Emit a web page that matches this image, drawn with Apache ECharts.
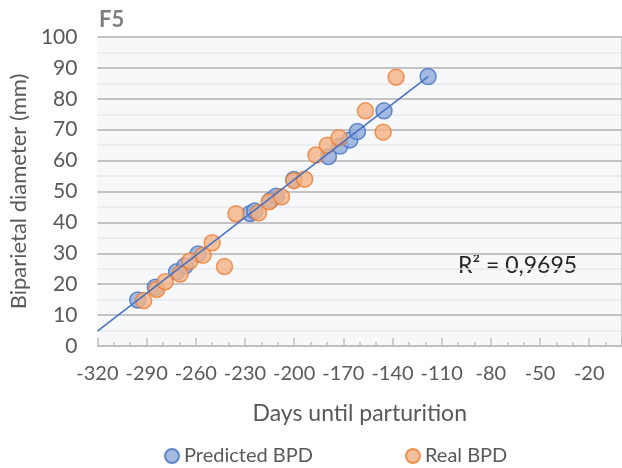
<!DOCTYPE html>
<html>
<head>
<meta charset="utf-8">
<script src="https://cdn.jsdelivr.net/npm/echarts@6/dist/echarts.min.js"></script>
<style>
  html, body { margin: 0; padding: 0; background: #ffffff; }
  #chart { width: 622px; height: 468px; }
</style>
</head>
<body>
<div id="chart"></div>
<script>
// Days until parturition vs. biparietal diameter (mm), female F5
const predictedDays = [-295.4, -284.7, -271.7, -266.6, -258.6, -226.8, -224.0, -214.3, -211.0, -200.2, -179.1, -172.0, -166.0, -161.4, -145.2, -118.3];
const predictedBPD  = [14.9, 19.0, 24.0, 25.9, 29.8, 42.9, 43.7, 47.2, 48.5, 53.9, 61.3, 64.7, 66.7, 69.4, 76.1, 87.2];

const realDays = [-291.8, -283.8, -278.7, -269.6, -263.6, -255.6, -250.0, -242.5, -235.5, -221.7, -215.3, -207.7, -200.2, -193.6, -186.7, -179.7, -172.7, -156.5, -145.7, -137.8];
const realBPD  = [14.7, 18.3, 20.8, 23.3, 27.5, 29.4, 33.4, 25.7, 42.8, 43.1, 46.7, 48.3, 53.5, 54.0, 61.8, 65.0, 67.4, 76.1, 69.2, 87.0];

// Linear trend line end points
const trendDays = [-320, -118.3];
const trendBPD  = [4.8, 87.2];

const xTicks = { min: -320, max: 0, step: 30 };
const yTicks = { min: 0, max: 100, step: 10 };
const r2Text = 'R² = 0,9695';

const pairs = (xs, ys) => xs.map((x, i) => [x, ys[i]]);

const FONT = 'Lato, "Open Sans", sans-serif';
const chart = echarts.init(document.getElementById('chart'));

chart.setOption({
  animation: false,
  backgroundColor: '#ffffff',
  textStyle: { fontFamily: FONT },
  title: {
    text: 'F5',
    left: 94, top: 4,
    textStyle: { fontFamily: FONT, fontSize: 22, fontWeight: 'bold', color: '#7f7f7f' }
  },
  grid: {
    left: 93, top: 37, width: 530, height: 309,
    show: true, backgroundColor: '#f7f8fa', borderWidth: 0
  },
  legend: {
    data: ['Predicted BPD', 'Real BPD'],
    left: 159, top: 441,
    itemWidth: 14, itemHeight: 14, itemGap: 92,
    icon: 'circle',
    textStyle: { fontFamily: FONT, fontSize: 20, color: '#595959' }
  },
  xAxis: {
    type: 'value',
    min: xTicks.min, max: xTicks.max, interval: xTicks.step,
    name: 'Days until parturition',
    nameLocation: 'middle', nameGap: 56,
    nameTextStyle: { fontFamily: FONT, fontSize: 23, color: '#595959' },
    axisLine: { show: true, lineStyle: { color: '#bfbfbf', width: 1.5 } },
    axisTick: { show: true, inside: true, length: 8, lineStyle: { color: '#bfbfbf', width: 1.5 } },
    minorTick: { show: true, splitNumber: 3, length: 4, lineStyle: { color: '#bfbfbf', width: 1.5 } },
    splitLine: { show: false },
    axisLabel: {
      fontFamily: FONT, fontSize: 20, color: '#595959', margin: 18,
      showMaxLabel: false
    }
  },
  yAxis: {
    type: 'value',
    min: yTicks.min, max: yTicks.max, interval: yTicks.step,
    name: 'Biparietal diameter (mm)',
    nameLocation: 'middle', nameGap: 61,
    nameTextStyle: { fontFamily: FONT, fontSize: 22, color: '#595959' },
    axisLine: { show: true, lineStyle: { color: '#bfbfbf', width: 1.5 } },
    axisTick: { show: false },
    minorTick: { show: false, splitNumber: 2 },
    splitLine: { show: true, lineStyle: { color: '#c3c3c3', width: 2 } },
    minorSplitLine: { show: true, lineStyle: { color: '#e6e7e9', width: 1.5 } },
    axisLabel: { fontFamily: FONT, fontSize: 21, color: '#595959', margin: 20 }
  },
  graphic: [{
    type: 'text',
    left: 458, top: 254,
    style: { text: r2Text, fontFamily: FONT, fontSize: 23, fill: '#262626' }
  }],
  series: [
    {
      name: 'Predicted BPD',
      type: 'scatter',
      symbol: 'circle', symbolSize: 16,
      itemStyle: { color: '#8eaadb', borderColor: '#4472c4', borderWidth: 1.5 },
      data: pairs(predictedDays, predictedBPD),
      z: 2
    },
    {
      name: 'Real BPD',
      type: 'scatter',
      symbol: 'circle', symbolSize: 16,
      itemStyle: { color: '#f4b183', borderColor: '#ed7d31', borderWidth: 1.5 },
      data: pairs(realDays, realBPD),
      z: 3
    },
    {
      name: 'Trend',
      type: 'line',
      showSymbol: false,
      silent: true,
      lineStyle: { color: '#4472c4', width: 1.5 },
      data: pairs(trendDays, trendBPD),
      z: 4
    }
  ]
});
</script>
</body>
</html>
